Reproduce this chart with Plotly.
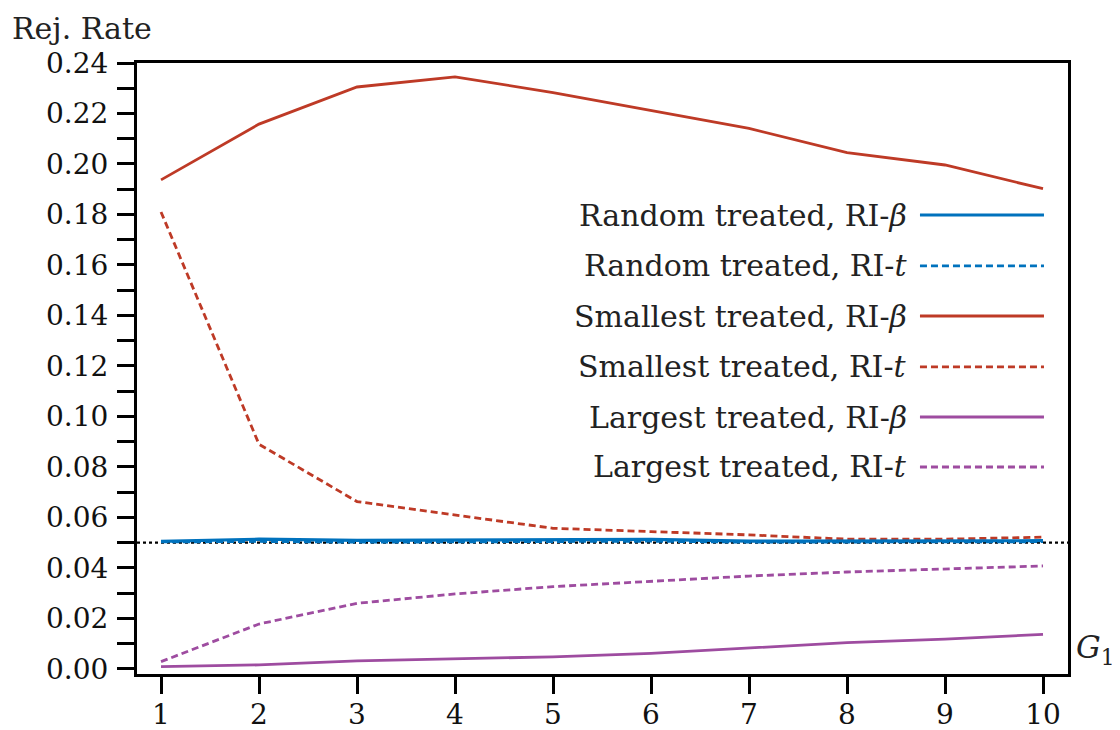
import plotly.graph_objects as go

# number of treated clusters
g1 = [1, 2, 3, 4, 5, 6, 7, 8, 9, 10]

# rejection rates
random_beta = [0.0505, 0.0514, 0.0509, 0.0510, 0.0513, 0.0513, 0.0506, 0.0506, 0.0508, 0.0508]
random_t = [0.0503, 0.0505, 0.0502, 0.0503, 0.0505, 0.0506, 0.0502, 0.0503, 0.0504, 0.0504]
smallest_beta = [0.1937, 0.2158, 0.2305, 0.2345, 0.2283, 0.2213, 0.2141, 0.2045, 0.1996, 0.1902]
smallest_t = [0.1810, 0.0890, 0.0663, 0.0610, 0.0557, 0.0544, 0.0531, 0.0514, 0.0514, 0.0522]
largest_beta = [0.0009, 0.0016, 0.0032, 0.0041, 0.0048, 0.0062, 0.0082, 0.0104, 0.0118, 0.0137]
largest_t = [0.0029, 0.0178, 0.0260, 0.0297, 0.0326, 0.0346, 0.0368, 0.0384, 0.0396, 0.0408]

nominal_level = 0.05

BLUE = '#0072BD'
RED = '#BE3A26'
PURPLE = '#9E4CA0'
FONT = 'DejaVu Serif'

series = [
    ('Random treated, RI-<i>β</i>', random_beta, BLUE, 'solid', 3.2),
    ('Random treated, RI-<i>t</i>', random_t, BLUE, '7px,4px', 2.8),
    ('Smallest treated, RI-<i>β</i>', smallest_beta, RED, 'solid', 2.8),
    ('Smallest treated, RI-<i>t</i>', smallest_t, RED, '7px,4px', 2.8),
    ('Largest treated, RI-<i>β</i>', largest_beta, PURPLE, 'solid', 2.8),
    ('Largest treated, RI-<i>t</i>', largest_t, PURPLE, '7px,4px', 2.8),
]

fig = go.Figure()

# 5% reference line
fig.add_trace(go.Scatter(
    x=[0.755, 10.255], y=[nominal_level, nominal_level],
    mode='lines', line=dict(color='black', width=2.2, dash='3px,3px'),
    showlegend=False, hoverinfo='skip'
))

# draw dashed first so solid lines sit on top, like the original
order = [1, 3, 5, 0, 2, 4]
for i in order:
    name, vals, color, dash, w = series[i]
    fig.add_trace(go.Scatter(
        x=g1, y=vals, mode='lines', name=name,
        line=dict(color=color, width=w, dash=dash),
        showlegend=False
    ))

# legend drawn by hand: text right-aligned, line sample on the right
leg_y = [0.7512, 0.6678, 0.5859, 0.5025, 0.4206, 0.3388]
for (name, vals, color, dash, w), ly in zip(series, leg_y):
    fig.add_annotation(
        x=0.8292, y=ly, xref='paper', yref='paper', text=name,
        showarrow=False, xanchor='right', yanchor='middle',
        font=dict(family=FONT, size=30, color='#222222')
    )
    fig.add_shape(
        type='line', xref='paper', yref='paper',
        x0=0.841, x1=0.9742, y0=ly, y1=ly,
        line=dict(color=color, width=2.8, dash=dash)
    )

fig.add_annotation(
    x=-0.1364, y=1.057, xref='paper', yref='paper', text='Rej. Rate',
    showarrow=False, xanchor='left', yanchor='middle',
    font=dict(family=FONT, size=30, color='#222222')
)
fig.add_annotation(
    x=1.006, y=0.04, xref='paper', yref='paper', text='<i>G</i><sub>1</sub>',
    showarrow=False, xanchor='left', yanchor='middle',
    font=dict(family=FONT, size=31, color='#222222')
)

axis_common = dict(
    showline=True, linecolor='black', linewidth=3, mirror=True,
    ticks='outside', ticklen=17, tickwidth=3, tickcolor='black',
    showgrid=False, zeroline=False, automargin=False,
    tickfont=dict(family=FONT, size=28, color='#111111'),
)

fig.update_xaxes(
    range=[0.755, 10.255], tickmode='array', tickvals=g1,
    ticktext=[str(v) for v in g1], ticklabelstandoff=-4, **axis_common
)
fig.update_yaxes(
    range=[-0.002, 0.24], tickmode='linear', tick0=0, dtick=0.02,
    tickformat='.2f', ticklabelstandoff=3,
    minor=dict(ticks='outside', ticklen=17, tickwidth=3, tickcolor='black', dtick=0.01, tick0=0),
    **axis_common
)

# page body adds an 8px offset, so the figure is sized to fit the window
fig.update_layout(
    width=1112, height=722,
    margin=dict(l=129, r=52, t=55, b=56, autoexpand=False),
    plot_bgcolor='white', paper_bgcolor='white',
    showlegend=False
)

fig.write_html('out.html')
